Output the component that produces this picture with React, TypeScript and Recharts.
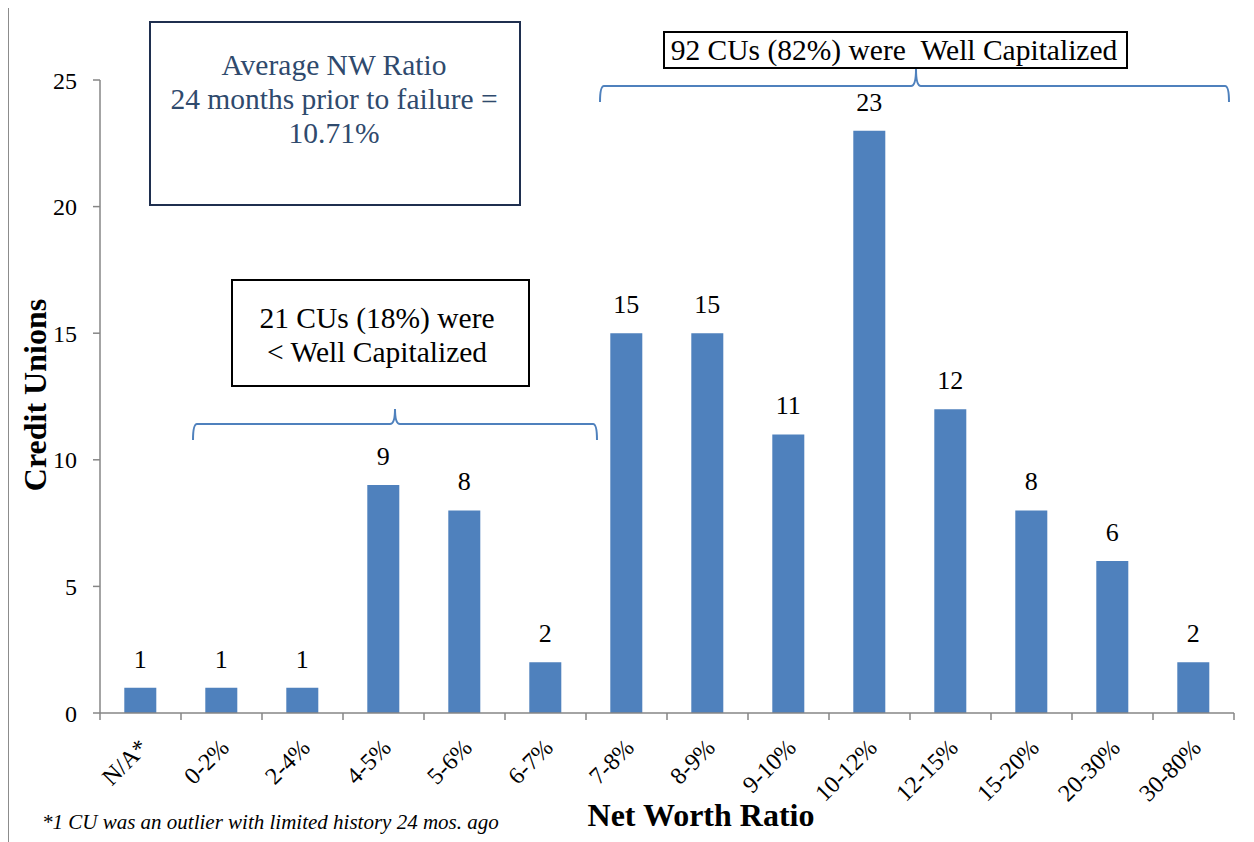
import React from 'react';
import { BarChart, Bar, XAxis, YAxis, LabelList } from 'recharts';

const categories = ['N/A*', '0-2%', '2-4%', '4-5%', '5-6%', '6-7%', '7-8%', '8-9%', '9-10%', '10-12%', '12-15%', '15-20%', '20-30%', '30-80%'];
const counts = [1, 1, 1, 9, 8, 2, 15, 15, 11, 23, 12, 8, 6, 2];
const yTicks = [0, 5, 10, 15, 20, 25];

const data = categories.map((c, i) => ({ name: c, value: counts[i] }));

const W = 1254;
const H = 842;
const M = { top: 80, right: 20, left: 40, bottom: 29 };
const YW = 60;
const XH = 100;
const PLOT_W = W - M.left - YW - M.right;
const BAND = PLOT_W / categories.length;
const FONT = 'Liberation Serif, Times New Roman, DejaVu Serif, serif';
const AXIS = '#868686';
const BLUE = '#4F81BD';

const XTick = (props: any) => {
  const { x, y, payload, index } = props;
  const left = x - BAND / 2;
  const ax = x + 9;
  const ay = y + 36;
  return (
    <g>
      <line x1={left} x2={left} y1={y} y2={y + 7} stroke={AXIS} strokeWidth={1.5} />
      {index === categories.length - 1 && (
        <line x1={x + BAND / 2} x2={x + BAND / 2} y1={y} y2={y + 7} stroke={AXIS} strokeWidth={1.5} />
      )}
      <text x={ax} y={ay} transform={`rotate(-45 ${ax} ${ay})`} textAnchor="end" style={{ fontFamily: FONT, fontSize: 24 }} fill="#000">
        {payload.value}
      </text>
    </g>
  );
};

const brace = (x0: number, x1: number, xm: number, yTop: number, yEnd: number, yPeak: number) =>
  `M ${x0} ${yEnd} Q ${x0} ${yTop} ${x0 + 4} ${yTop} L ${xm - 5} ${yTop} Q ${xm} ${yTop} ${xm} ${yPeak} Q ${xm} ${yTop} ${xm + 5} ${yTop} L ${x1 - 4} ${yTop} Q ${x1} ${yTop} ${x1} ${yEnd}`;

const txt = (size: number, extra: any = {}) => ({ fontFamily: FONT, fontSize: size, ...extra });

export default function App() {
  return (
    <div style={{ position: 'relative', width: W, height: H, margin: '-8px 0 0 -8px', background: '#fff', overflow: 'hidden', fontFamily: FONT }}>
      <div style={{ position: 'absolute', left: 0, top: 0 }}>
        <BarChart width={W} height={H} data={data} margin={M} barCategoryGap="30%" style={{ fontFamily: FONT }}>
          <XAxis
            dataKey="name"
            interval={0}
            height={XH}
            tickSize={0}
            tickMargin={0}
            tickLine={false}
            axisLine={{ stroke: AXIS, strokeWidth: 1.5 }}
            tick={<XTick />}
          />
          <YAxis
            width={YW}
            domain={[0, 25]}
            ticks={yTicks}
            interval={0}
            tickSize={7}
            tickMargin={16}
            axisLine={{ stroke: AXIS, strokeWidth: 1.5 }}
            tickLine={{ stroke: AXIS, strokeWidth: 1.5 }}
            tick={{ fill: '#000', style: txt(24) }}
          />
          <Bar dataKey="value" fill={BLUE} isAnimationActive={false}>
            <LabelList dataKey="value" position="top" offset={20} fill="#000" style={txt(26)} />
          </Bar>
        </BarChart>
      </div>
      <svg width={W} height={H} style={{ position: 'absolute', left: 0, top: 0, pointerEvents: 'none' }}>
        {/* outer frame */}
        <path d={`M 8 ${H} L 8 4 L ${W} 4`} fill="none" stroke="#8C8C8C" strokeWidth={2} />

        {/* axis titles */}
        <text x={46} y={395} transform="rotate(-90 46 395)" textAnchor="middle" style={txt(32, { fontWeight: 'bold' })} fill="#000">
          Credit Unions
        </text>
        <text x={701} y={826} textAnchor="middle" style={txt(32, { fontWeight: 'bold' })} fill="#000">
          Net Worth Ratio
        </text>
        <text x={42} y={829} style={txt(21, { fontStyle: 'italic' })} fill="#000">
          *1 CU was an outlier with limited history 24 mos. ago
        </text>

        {/* average box */}
        <rect x={150} y={22} width={370} height={183} fill="#fff" stroke="#1F2F4F" strokeWidth={2} />
        <g style={txt(29.5)} fill="#2F4A6D" textAnchor="middle">
          <text x={334} y={75}>Average NW Ratio</text>
          <text x={334} y={109}>24 months prior to failure =</text>
          <text x={334} y={143}>10.71%</text>
        </g>

        {/* < well capitalized box */}
        <rect x={232} y={280} width={297} height={106} fill="#fff" stroke="#000" strokeWidth={2} />
        <g style={txt(29.5)} fill="#000" textAnchor="middle">
          <text x={377} y={328}>21 CUs (18%) were</text>
          <text x={377} y={362}>&lt; Well Capitalized</text>
        </g>
        <path d={brace(193, 597, 395, 424, 440, 409)} fill="none" stroke={BLUE} strokeWidth={2} />

        {/* well capitalized box */}
        <path d={brace(600, 1229, 916, 86, 102, 69)} fill="none" stroke={BLUE} strokeWidth={2} />
        <rect x={664} y={32} width={463} height={36} fill="#fff" stroke="#000" strokeWidth={2} />
        <text x={894} y={60} textAnchor="middle" style={txt(29.5)} fill="#000">
          92 CUs (82%) were{'\u00A0\u00A0'}Well Capitalized
        </text>
      </svg>
    </div>
  );
}
